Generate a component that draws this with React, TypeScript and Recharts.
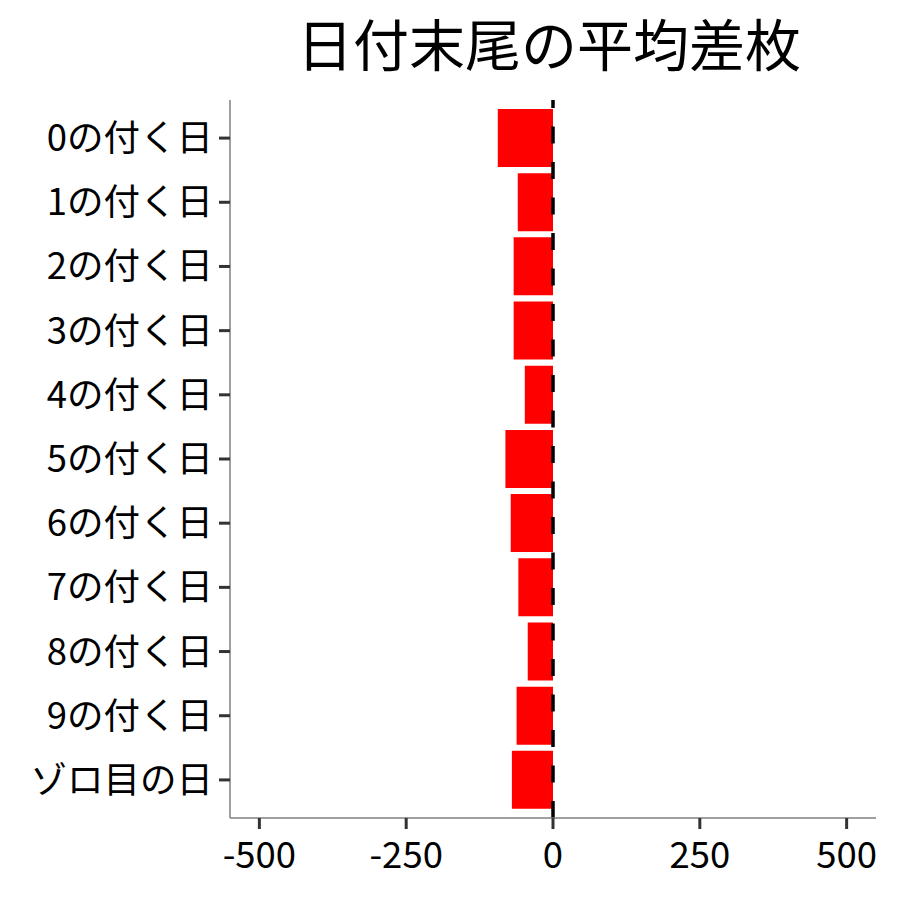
import { BarChart, Bar, XAxis, YAxis, ReferenceLine } from 'recharts'

const categories = ['0の付く日', '1の付く日', '2の付く日', '3の付く日', '4の付く日', '5の付く日', '6の付く日', '7の付く日', '8の付く日', '9の付く日', 'ゾロ目の日']
const avgDiff = [-94, -60, -67, -67, -48, -81, -72, -59, -43, -62, -70]
const xTicks = [-500, -250, 0, 250, 500]

const data = categories.map((name, i) => ({ name, value: avgDiff[i] }))

const FONT = '"Noto Sans CJK JP", "Noto Sans", sans-serif'

// draw the zero line upward from the panel bottom, like the original
const ZeroLine = (props: any) => {
    const { x1, y1, x2, y2 } = props
    const top = Math.min(y1, y2)
    const bottom = Math.max(y1, y2)
    return (
        <line x1={x1} y1={bottom} x2={x2} y2={top} stroke="#000" strokeWidth={3.5} strokeDasharray="17 18.5" />
    )
}

export default function App() {
    return (
        <div style={{ position: 'relative', width: 884, height: 884, fontFamily: FONT }}>
            <div
                style={{
                    position: 'absolute', left: 218, width: 646, top: 6,
                    textAlign: 'center', fontSize: 56, lineHeight: '56px', color: '#000',
                }}
            >
                日付末尾の平均差枚
            </div>
            <BarChart
                width={884}
                height={884}
                data={data}
                layout="vertical"
                margin={{ top: 92, right: 16, bottom: 14, left: 22 }}
            >
                <XAxis
                    type="number"
                    domain={[-550, 550]}
                    ticks={xTicks}
                    allowDataOverflow
                    height={60}
                    tickSize={11}
                    tickMargin={13}
                    axisLine={{ stroke: '#808080', strokeWidth: 1.5 }}
                    tickLine={{ stroke: '#333', strokeWidth: 3 }}
                    tick={{ fill: '#000', fontSize: 36.5, fontFamily: FONT }}
                />
                <YAxis
                    type="category"
                    dataKey="name"
                    width={200}
                    tickSize={11}
                    tickMargin={6}
                    padding={{ top: 6, bottom: 6 }}
                    interval={0}
                    axisLine={{ stroke: '#808080', strokeWidth: 1.5 }}
                    tickLine={{ stroke: '#333', strokeWidth: 3 }}
                    tick={{ fill: '#000', fontSize: 36.5, fontFamily: FONT }}
                />
                <Bar dataKey="value" fill="#ff0000" barSize={58} isAnimationActive={false} />
                <ReferenceLine x={0} shape={ZeroLine} />
            </BarChart>
        </div>
    )
}
